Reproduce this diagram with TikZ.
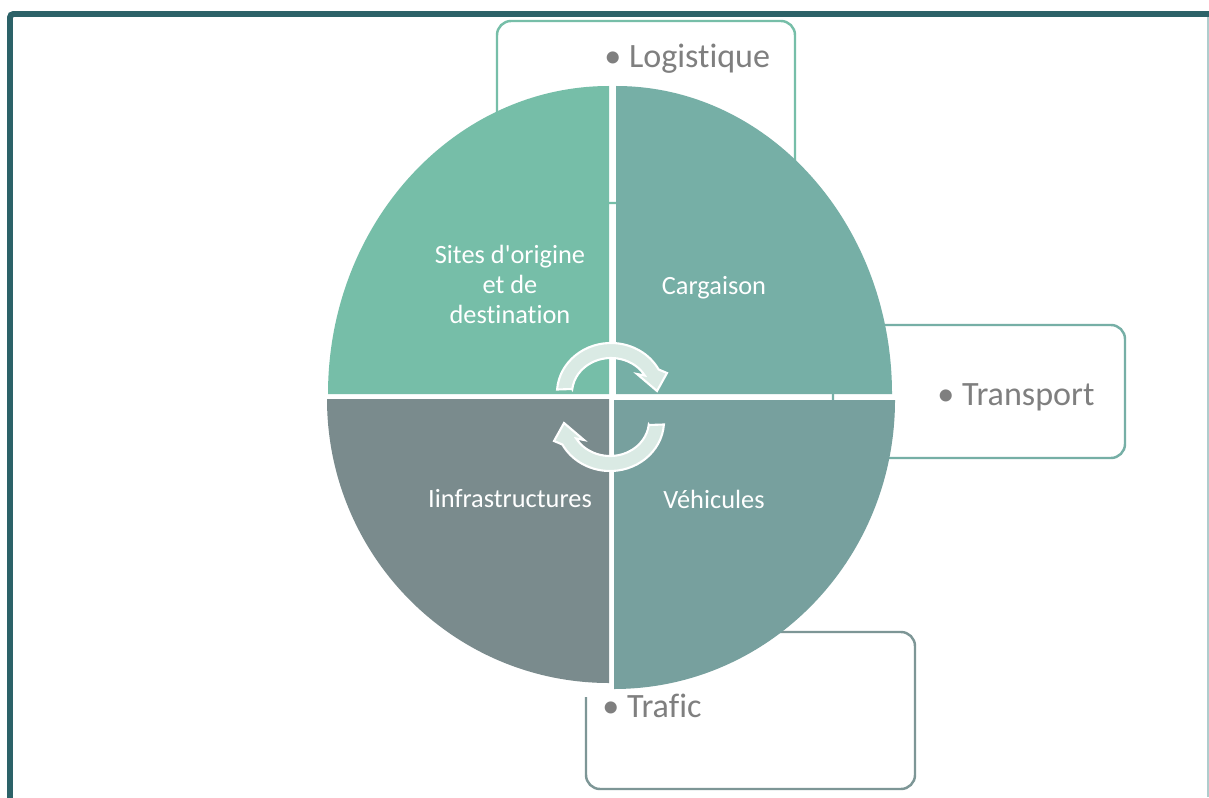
\documentclass[tikz,border=0pt]{standalone}
\usepackage{fontspec}
\setmainfont{Carlito}[Ligatures=NoCommon]
\definecolor{cTL}{RGB}{118,190,168}
\definecolor{cTR}{RGB}{118,175,166}
\definecolor{cBR}{RGB}{119,160,158}
\definecolor{cBL}{RGB}{122,139,141}
\definecolor{frameC}{RGB}{44,98,104}
\definecolor{frameLight}{RGB}{175,205,205}
\definecolor{arrowC}{RGB}{218,234,228}
\definecolor{txtgray}{RGB}{127,127,127}
\definecolor{trafC}{RGB}{125,150,150}
\begin{document}
\begin{tikzpicture}[x=0.02cm,y=0.02cm,
  boxline/.style={line width=1.4pt, rounded corners=8pt},
  bullettext/.style={anchor=base west, inner sep=0pt, text=txtgray, font=\fontsize{19.4}{24}\selectfont},
  innertext/.style={anchor=base, inner sep=0pt, text=white, font=\fontsize{15}{17}\selectfont},
  cyc/.style={fill=arrowC, draw=white, line width=1.2pt, line join=miter}
]
\useasboundingbox (0,0) rectangle (1209,-797);
\clip (0,0) rectangle (1209,-797);
\fill[white] (0,0) rectangle (1209,-797);

% frame
\draw[frameC, line width=3.4pt, rounded corners=2pt] (10,-900) -- (10,-14) -- (1300,-14);
\draw[frameLight, line width=0.6pt] (1208,-17) -- (1208,-797);

% text boxes (behind the circle)
\draw[boxline, draw=cTL] (497,-21) rectangle (795,-203);
\draw[boxline, draw=cTR] (833,-325) rectangle (1125,-458);
\draw[boxline, draw=trafC] (760,-632) -- (915,-632) -- (915,-789) -- (586,-789) -- (586,-697);

% quadrants
\fill[cTL] (609,-394) -- (328,-394) arc[start angle=180, end angle=90, x radius=281, y radius=308] -- cycle;
\fill[cTR] (616,-394) -- (616,-86) arc[start angle=90, end angle=0, x radius=276, y radius=308] -- cycle;
\fill[cBL] (609,-399) -- (609,-683) arc[start angle=270, end angle=180, x radius=282, y radius=284] -- cycle;
\fill[cBR] (614,-400) -- (895,-400) arc[start angle=0, end angle=-90, x radius=281, y radius=289] -- cycle;

% circular arrows
\path[cyc] (572,-389) -- (557.1,-389.5) arc[start angle=176, end angle=28, x radius=54, y radius=50]
  -- (667,-373) -- (657,-391) -- (637,-374) -- (644.8,-375.5)
  arc[start angle=30, end angle=174, x radius=39, y radius=35] -- cycle;
\begin{scope}[rotate around={180:(610.5,-407)}]
\path[cyc] (572,-389) -- (557.1,-389.5) arc[start angle=176, end angle=28, x radius=54, y radius=50]
  -- (667,-373) -- (657,-391) -- (637,-374) -- (644.8,-375.5)
  arc[start angle=30, end angle=174, x radius=39, y radius=35] -- cycle;
\end{scope}

% inner labels
\node[innertext] (sites1) at (510,-263) {Sites d\textquotesingle origine};
\node[innertext] (sites2) at (510,-293) {et de};
\node[innertext] (sites3) at (510,-323) {destination};
\node[innertext] (cargo) at (714,-294) {Cargaison};
\node[innertext] (infra) at (510,-507) {Iinfrastructures};
\node[innertext] (vehic) at (714,-508) {Véhicules};

% bullet labels
\node[bullettext] (logi) at (604,-68) {• Logistique};
\node[bullettext] (trans) at (937,-405) {• Transport};
\node[bullettext] (traf) at (602,-717) {• Trafic};
\end{tikzpicture}
\end{document}
